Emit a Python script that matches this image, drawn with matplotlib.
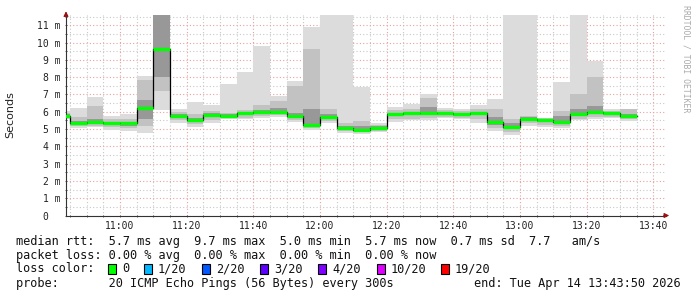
import matplotlib
matplotlib.use("Agg")
import matplotlib.pyplot as plt
from matplotlib.patches import Rectangle
from matplotlib.ticker import MultipleLocator, FuncFormatter

# 5-minute steps, first step starts at 10:40 (minutes after 10:40)
n_steps = 35
step = 5
t0 = 10 * 60 + 40
view_start = 3 + 50 / 60   # 10:43:50
view_end = view_start + 180  # 13:43:50

# ping distribution per step (ms): min, p10, q1, median, q3, p90, max
p_min = [5.55, 5.07, 5.10, 4.97, 4.87, 4.78, 6.07, 5.36, 5.13, 5.32, 5.59, 5.55, 5.65, 5.70, 5.39, 4.93, 5.36, 4.78,
         4.74, 4.82, 5.43, 5.51, 5.51, 5.65, 5.55, 5.36, 4.87, 4.68, 5.20, 5.10, 5.03, 5.51, 5.59, 5.65, 5.45]
p10 = [5.62, 5.15, 5.20, 5.10, 5.05, 5.16, 7.20, 5.50, 5.30, 5.50, 5.65, 5.65, 5.75, 5.80, 5.50, 5.05, 5.45, 4.90,
       4.82, 4.90, 5.55, 5.60, 5.65, 5.72, 5.65, 5.55, 5.05, 4.85, 5.35, 5.25, 5.20, 5.60, 5.70, 5.72, 5.55]
q1 = [5.70, 5.25, 5.30, 5.25, 5.20, 5.60, 8.00, 5.65, 5.42, 5.70, 5.72, 5.80, 5.88, 5.92, 5.62, 5.15, 5.60, 4.98,
      4.90, 5.00, 5.75, 5.80, 5.82, 5.82, 5.78, 5.80, 5.25, 5.00, 5.50, 5.42, 5.33, 5.78, 5.88, 5.82, 5.65]
median = [5.78, 5.32, 5.39, 5.34, 5.32, 6.20, 9.65, 5.74, 5.51, 5.80, 5.78, 5.90, 5.97, 6.00, 5.74, 5.24, 5.70, 5.05,
          4.97, 5.07, 5.84, 5.90, 5.94, 5.90, 5.86, 5.90, 5.42, 5.10, 5.59, 5.51, 5.42, 5.88, 5.97, 5.90, 5.74]
q3 = [5.85, 5.45, 5.55, 5.42, 5.40, 6.70, 12.0, 5.85, 5.62, 5.90, 5.85, 6.00, 6.10, 6.20, 5.90, 6.13, 5.85, 5.20,
      5.15, 5.15, 5.95, 6.00, 6.30, 5.98, 5.95, 6.00, 5.70, 5.35, 5.70, 5.57, 5.75, 6.13, 6.32, 5.98, 5.85]
p90 = [5.95, 5.70, 6.32, 5.55, 5.55, 7.86, 12.3, 5.98, 5.85, 6.05, 5.95, 6.10, 6.36, 6.60, 7.47, 9.65, 6.13, 5.36,
       5.45, 5.25, 6.10, 6.15, 6.80, 6.10, 6.05, 6.15, 6.13, 5.55, 5.78, 5.62, 6.03, 7.00, 8.02, 6.05, 6.17]
p_max = [6.03, 6.22, 6.84, 5.74, 5.86, 8.09, 12.5, 6.13, 6.55, 6.36, 7.63, 8.28, 9.79, 6.90, 7.76, 10.88, 12.5, 12.5,
         7.42, 5.36, 6.26, 6.42, 7.05, 6.22, 6.17, 6.36, 6.71, 12.5, 12.5, 5.65, 7.71, 12.5, 8.92, 6.13, 6.17]

loss_labels = ["0", "1/20", "2/20", "3/20", "4/20", "10/20", "19/20"]
loss_colors = ["#00ff00", "#00b8ff", "#0059ff", "#5e00ff", "#7e00ff", "#dd00ff", "#ff0000"]
loss_box_x = [108, 144, 202, 260, 318, 377, 441]

stats_lines = [
    "median rtt:  5.7 ms avg  9.7 ms max  5.0 ms min  5.7 ms now  0.7 ms sd  7.7   am/s",
    "packet loss: 0.00 % avg  0.00 % max  0.00 % min  0.00 % now",
]
probe_text = "probe:       20 ICMP Echo Pings (56 Bytes) every 300s"
end_text = "end: Tue Apr 14 13:43:50 2026"

W, H = 697, 297
fig = plt.figure(figsize=(W / 100, H / 100), dpi=100)
ax = fig.add_axes([66 / W, (H - 215.5) / H, 600 / W, 200.5 / H])

xs = [i * step for i in range(n_steps)]
for i, x in enumerate(xs):
    ax.bar(x, p_max[i] - p_min[i], bottom=p_min[i], width=step, align="edge", color="#dcdcdc", lw=0, zorder=2)
    ax.bar(x, p90[i] - p10[i], bottom=p10[i], width=step, align="edge", color="#c2c2c2", lw=0, zorder=2)
    ax.bar(x, q3[i] - q1[i], bottom=q1[i], width=step, align="edge", color="#989898", lw=0, zorder=2)

# median: black step line with green segments on top
step_x = xs + [xs[-1] + step]
ax.step(step_x, median + [median[-1]], where="post", color="black", lw=0.9, zorder=3)
ax.hlines(median, xs, [x + step for x in xs], colors=loss_colors[0], lw=2.4, zorder=4)

ax.set_xlim(view_start, view_end)
ax.set_ylim(0, 11.59)

ax.xaxis.set_major_locator(MultipleLocator(20, offset=0))
ax.xaxis.set_minor_locator(MultipleLocator(5))
ax.xaxis.set_major_formatter(FuncFormatter(
    lambda v, p: "%02d:%02d" % divmod(int(round(t0 + v)), 60)))
ax.yaxis.set_major_locator(MultipleLocator(1))
ax.yaxis.set_minor_locator(MultipleLocator(0.5))
ax.yaxis.set_major_formatter(FuncFormatter(lambda v, p: "0  " if v == 0 else "%d m" % v))

ax.grid(which="minor", color="#c8c8c8", ls=(0, (1, 2)), lw=0.8, zorder=1)
ax.grid(which="major", color="#e8a0a0", ls=(0, (1, 2)), lw=0.8, zorder=1)

mono = "DejaVu Sans Mono"
ax.tick_params(which="both", length=2, width=0.6, color="#444444", direction="inout",
               labelsize=7, labelcolor="#222222", pad=3)
for lab in ax.get_xticklabels() + ax.get_yticklabels():
    lab.set_family(mono)

for s in ("top", "right"):
    ax.spines[s].set_visible(False)
for s in ("left", "bottom"):
    ax.spines[s].set_color("#333333")
    ax.spines[s].set_linewidth(0.8)

# axis arrows
ax.annotate("", xy=(606 / 600, 0), xytext=(595 / 600, 0), xycoords="axes fraction",
            arrowprops=dict(arrowstyle="-|>", color="#991111", lw=0.8, mutation_scale=7))
ax.annotate("", xy=(0, 207 / 200.5), xytext=(0, 197 / 200.5), xycoords="axes fraction",
            arrowprops=dict(arrowstyle="-|>", color="#991111", lw=0.8, mutation_scale=7))

fig.text(10 / W, 1 - 115 / H, "Seconds", rotation=90, ha="center", va="center", fontsize=8, color="#222222")
fig.text(686 / W, 1 - 5 / H, "RRDTOOL / TOBI OETIKER", rotation=270, ha="center", va="top",
         fontsize=5.9, color="#aaaaaa", family=mono)

# legend block
fs = 8.55
for k, line in enumerate(stats_lines):
    fig.text(16 / W, 1 - (241 + 14 * k) / H, line, family=mono, fontsize=fs, va="center", color="#111111")
fig.text(16 / W, 1 - 269 / H, "loss color:", family=mono, fontsize=fs, va="center", color="#111111")
for bx, lab, col in zip(loss_box_x, loss_labels, loss_colors):
    fig.patches.append(Rectangle((bx / W, 1 - 274 / H), 8 / W, 10 / H, transform=fig.transFigure,
                                 facecolor=col, edgecolor="black", lw=0.8))
    fig.text((bx + 14) / W, 1 - 269 / H, lab, family=mono, fontsize=fs, va="center", color="#111111")
fig.text(16 / W, 1 - 283 / H, probe_text, family=mono, fontsize=fs, va="center", color="#111111")
fig.text(681 / W, 1 - 283 / H, end_text, family=mono, fontsize=fs, va="center", ha="right", color="#111111")

fig.savefig("out.png", dpi=100, facecolor="white")
